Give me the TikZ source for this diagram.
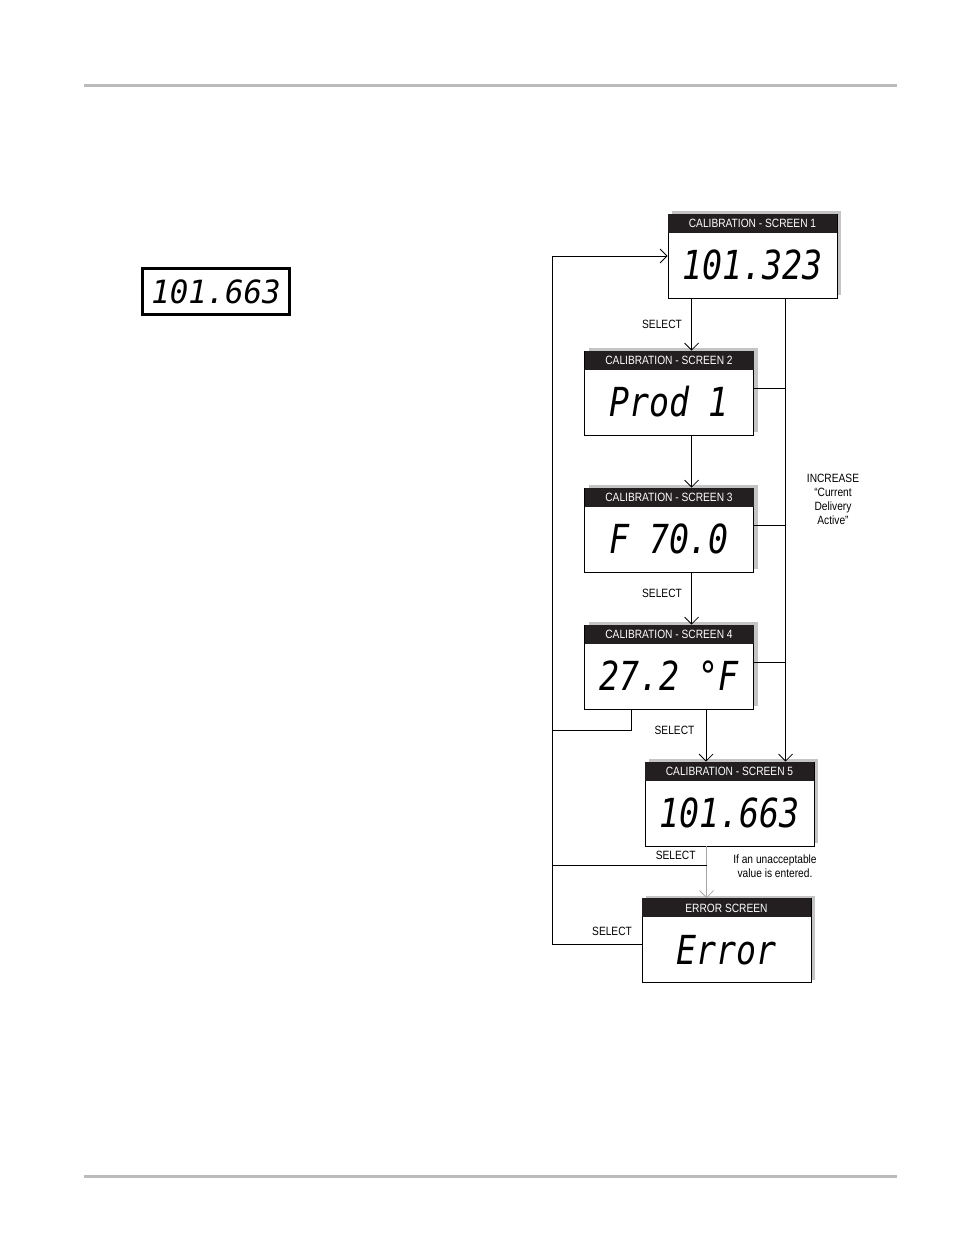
\documentclass[tikz,border=0pt]{standalone}
\usepackage{fontspec}
\setmainfont{Liberation Sans}
\newfontfamily\narrowfont[FakeStretch=0.85]{Liberation Sans}
\newfontfamily\lcdfont[FakeStretch=0.83]{DejaVu Sans Mono}
\newfontfamily\lcdwide[FakeStretch=0.96]{DejaVu Sans Mono}
\usetikzlibrary{arrows.meta,shadows}
\definecolor{headbar}{HTML}{231F20}
\definecolor{rulegray}{HTML}{BBBBBB}
\definecolor{shadowgray}{HTML}{C4C4C4}
\tikzset{>={Straight Barb[length=7pt,width=14pt]}}
\tikzset{
  screen/.style={draw, line width=0.8pt, fill=white, inner sep=0pt,
    minimum width=169pt, minimum height=84pt,
    drop shadow={shadow xshift=4pt, shadow yshift=3pt, fill=shadowgray, opacity=1},
    font=\lcdfont\itshape\fontsize{40}{40}\selectfont,
    text height=47pt, text depth=0pt},
  screenhead/.style={anchor=north, fill=headbar, text=white, inner sep=0pt,
    minimum width=169pt, minimum height=19pt,
    font=\narrowfont\fontsize{12}{14}\selectfont,
    text height=9pt, text depth=0pt},
  display/.style={draw, line width=3pt, inner sep=0pt,
    minimum width=147pt, minimum height=46pt,
    font=\lcdwide\itshape\fontsize{32}{32}\selectfont},
  note/.style={font=\narrowfont\fontsize{12}{14}\selectfont, align=center},
  link/.style={line width=0.8pt}
}
\newcommand{\calib}[1]{CALIBRATION - SCREEN #1}

\begin{document}
\begin{tikzpicture}[x=1pt,y=-1pt]
  \useasboundingbox (0,0) rectangle (954,1235);
  % page rules
  \draw[rulegray, line width=3pt] (84,85) -- (897,85);
  \draw[rulegray, line width=3pt] (84,1176) -- (897,1176);
  % display
  \node[display] (disp) at (216,291.5) {101.663};
  % screens
  \node[screen] (s1) at (752.5,256) {101.323};
  \node[screenhead] (s1h) at (s1.north) {\calib{1}};
  \node[screen] (s2) at (669,393) {Prod 1};
  \node[screenhead] (s2h) at (s2.north) {\calib{2}};
  \node[screen] (s3) at (669,530) {F 70.0};
  \node[screenhead] (s3h) at (s3.north) {\calib{3}};
  \node[screen] (s4) at (669,667) {27.2 °F};
  \node[screenhead] (s4h) at (s4.north) {\calib{4}};
  \node[screen] (s5) at (729.5,804) {101.663};
  \node[screenhead] (s5h) at (s5.north) {\calib{5}};
  \node[screen] (err) at (726.5,940.5) {Error};
  \node[screenhead] (errh) at (err.north) {ERROR SCREEN};
  % select chain
  \coordinate (up) at ([xshift=24pt]s1.south west);
  \draw[link,->] (up) -- node[note, left=6pt] (sel1) {SELECT} (up |- s2.north);
  \draw[link,->] (up |- s2.south) -- (up |- s3.north);
  \draw[link,->] (up |- s3.south) -- node[note, left=6pt, pos=0.4] (sel2) {SELECT} (up |- s4.north);
  \coordinate (dn) at ([xshift=122pt]s4.south west);
  \draw[link,->] (dn) -- node[note, left=8pt, pos=0.4] (sel3) {SELECT} (dn |- s5.north);
  % increase
  \coordinate (inc) at ([xshift=118pt]s1.south west);
  \draw[link,->] (inc) -- (inc |- s5.north);
  \foreach \s in {s2,s3,s4}
    \draw[link] ([yshift=5pt]\s.east) coordinate (b) -- (b -| inc);
  \node[note] (incr) at (833,499) {INCREASE\\“Current\\Delivery\\Active”};
  % error
  \coordinate (ex) at ([xshift=62pt]s5.south west);
  \draw[link, gray!70, ->] (ex) -- (ex |- err.north);
  \node[note] (bad) at (775,866) {If an unacceptable\\value is entered.};
  % back to screen 1
  \coordinate (lp) at (552,0);
  \draw[link,->] ([yshift=-4pt]err.west) coordinate (e)
    -- node[note, pos=0.33, above=5pt] (sel5) {SELECT} (e -| lp) |- (s1.west);
  \draw[link] ([xshift=47pt]s4.south west) -- ++(0,21) coordinate (g) -- (g -| lp);
  \draw[link] (ex) ++(0,19) coordinate (h)
    -- node[note, pos=0.2, above=2pt] (sel4) {SELECT} (h -| lp);
\end{tikzpicture}
\end{document}
